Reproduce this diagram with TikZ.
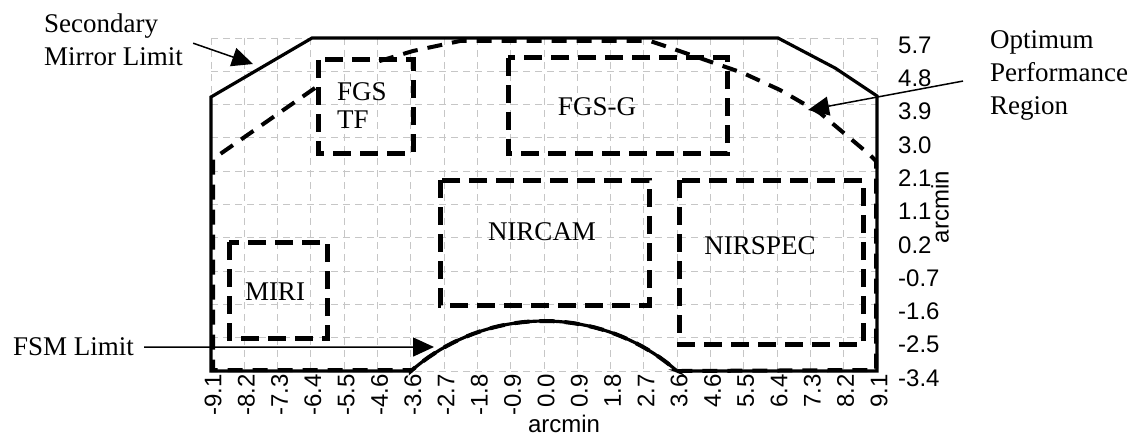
\documentclass[tikz,border=0pt]{standalone}
\usepackage{fontspec}
\setmainfont{Liberation Serif}
\newfontfamily\arialfam{Liberation Sans}
\usetikzlibrary{arrows.meta}
\begin{document}
\begin{tikzpicture}[x=1pt,y=-1pt,
  gridline/.style={gray!45, line width=0.9pt, dash pattern=on 7pt off 5pt},
  mirrorline/.style={line width=3.2pt, line join=miter},
  optimline/.style={line width=4pt, dash pattern=on 15pt off 10pt},
  instrbox/.style={line width=5pt, dash pattern=on 18pt off 9pt},
  calloutarrow/.style={line width=1.5pt, -{Triangle[length=21pt,width=19pt]}},
  lbl/.style={font=\fontsize{27}{33}\selectfont, inner sep=0pt},
  ticklbl/.style={font=\arialfam\fontsize{24}{26}\selectfont, inner sep=0pt},
]
\useasboundingbox (0,0) rectangle (1134,436);

% grid
\foreach \i in {0,...,20} \draw[gridline] ({211+33.3*\i},38) -- ({211+33.3*\i},371);
\foreach \j in {0,...,10} \draw[gridline] (211,{38+33.3*\j}) -- (877,{38+33.3*\j});

% instrument fields
\draw[instrbox] (318,60) rectangle (413,153);
\draw[instrbox] (508,58) rectangle (727,153);
\draw[instrbox] (440,180) rectangle (649,305);
\draw[instrbox] (679,180) rectangle (863,344);
\draw[instrbox] (229,242) rectangle (327,338);

% secondary mirror limit
\draw[mirrorline] (211,371) -- (211,97) -- (312,38) -- (778,38) -- (835,68) -- (877,96) -- (877,371) -- (677,371)
  -- plot[domain=-48.8:-131.2, samples=41] ({544+202*cos(\x)},{523+202*sin(\x)}) -- cycle;

% optimum performance region
\draw[optimline] (315,88) -- (213,159) -- (213,370) -- (411,370)
  -- plot[domain=-131.2:-48.8, samples=41] ({544+202*cos(\x)},{523+202*sin(\x)})
  -- (876,370) -- (876,161) -- (870,155) -- (820,113) -- (780,90) -- (743,73) -- (665,46) -- (650,41)
  -- (460,41) -- (413,51) -- (373,63);

% tick labels
\foreach \lab [count=\i from 0] in {-9.1,-8.2,-7.3,-6.4,-5.5,-4.6,-3.6,-2.7,-1.8,-0.9,0.0,0.9,1.8,2.7,3.6,4.6,5.5,6.4,7.3,8.2,9.1}
  \node[ticklbl, rotate=90, anchor=east] (xt\i) at ({213+33.3*\i},374) {\lab};
\foreach \lab [count=\j from 0] in {5.7,4.8,3.9,3.0,2.1,1.1,0.2,-0.7,-1.6,-2.5,-3.4}
  \node[ticklbl, anchor=west] (yt\j) at (898,{45+33.3*\j}) {\lab};
\node[ticklbl, anchor=base] (xlab) at (564,432) {arcmin};
\node[ticklbl, rotate=90] (ylab) at (940,207) {arcmin};

% labels
\node[lbl, align=left, anchor=north west] (sml) at (44,14) {Secondary\\Mirror Limit};
\node[lbl, align=left, anchor=north west] (opr) at (990,30) {Optimum\\Performance\\Region};
\node[lbl, anchor=base west] (fsm) at (13,355) {FSM Limit};
\node[lbl, align=left, anchor=north west, font=\fontsize{27}{28}\selectfont] (fgstf) at (337,82) {FGS\\TF};
\node[lbl, anchor=base] (fgsg) at (597,115) {FGS-G};
\node[lbl, anchor=base] (nircam) at (542,240) {NIRCAM};
\node[lbl, anchor=base] (nirspec) at (760,254) {NIRSPEC};
\node[lbl, anchor=base] (miri) at (275,300) {MIRI};

% callout arrows
\coordinate (smltip) at (253,64);
\coordinate (oprtip) at (808,110);
\coordinate (fsmtip) at (434,347);
\draw[calloutarrow] ([shift={(10,3)}]sml.east) -- (smltip);
\draw[calloutarrow] ([shift={(-27,6)}]opr.west) -- (oprtip);
\draw[calloutarrow] ([shift={(10,1)}]fsm.east) -- (fsmtip);
\end{tikzpicture}
\end{document}
